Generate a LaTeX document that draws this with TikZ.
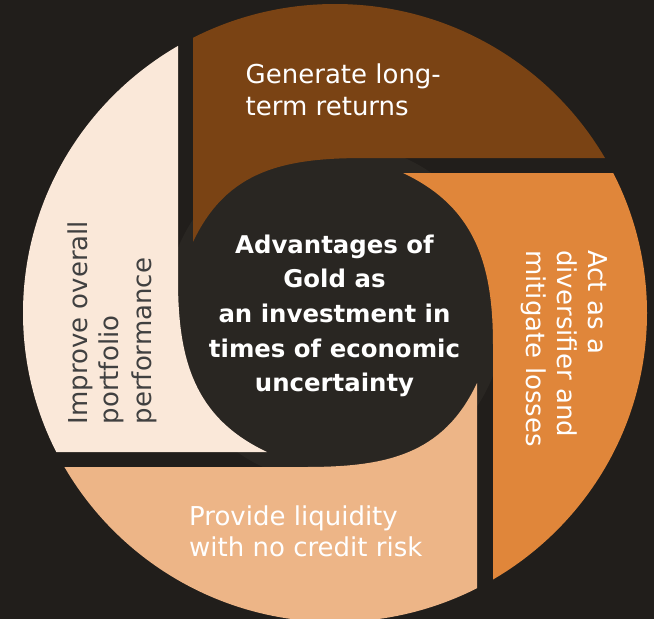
\documentclass[tikz,border=0pt]{standalone}
\usepackage{fontspec}
\setmainfont{DejaVu Sans}
\definecolor{bgc}{HTML}{211E1B}
\definecolor{midc}{HTML}{292622}
\definecolor{brownc}{HTML}{7A4314}
\definecolor{orangec}{HTML}{E0863A}
\definecolor{peachc}{HTML}{EDB587}
\definecolor{creamc}{HTML}{FAE8D9}
\definecolor{greyc}{HTML}{404040}
\tikzset{
  outertxt/.style={inner sep=0pt, text=white, font=\fontsize{26}{32}\selectfont},
  centertxt/.style={inner sep=0pt, text=white, font=\bfseries\fontsize{24.4}{34.7}\selectfont},
}
\begin{document}
\begin{tikzpicture}[x=1pt,y=-1pt]
\fill[bgc] (0,0) rectangle (654,619);
\useasboundingbox (0,0) rectangle (654,619);
\fill[midc] (335,313) circle [radius=170];
\begin{scope}
\clip (335,313) ellipse [x radius=312, y radius=309];
% brown (top)
\fill[brownc] (193,-20) -- (193,242) .. controls (227,169.5) and (285,158) .. (365,158) -- (700,158) -- (700,-20) -- cycle;
% orange (right)
\fill[orangec] (403,173) -- (700,173) -- (700,700) -- (493,700) -- (493,345) .. controls (493,265) and (475.5,207) .. (403,173) -- cycle;
% peach (bottom)
\fill[peachc] (477,383) -- (477,700) -- (-20,700) -- (-20,467) -- (305,467) .. controls (385,467) and (443,455.5) .. (477,383) -- cycle;
% cream (left)
\fill[creamc] (267,452) -- (-20,452) -- (-20,-20) -- (178,-20) -- (178,280) .. controls (178,360) and (194.5,418) .. (267,452) -- cycle;
\end{scope}
\node[outertxt, anchor=base west] (gen) at (245.5,83)
  {\begin{tabular}[t]{@{}l@{}}Generate long-\\term returns\end{tabular}};
\node[outertxt, anchor=base west, rotate=-90, font=\fontsize{26}{31}\selectfont] (act) at (588,250)
  {\begin{tabular}[t]{@{}l@{}}Act as a\\diversifier and\\mitigate losses\end{tabular}};
\node[outertxt, anchor=base west, font=\fontsize{26}{31.7}\selectfont] (prov) at (189,525)
  {\begin{tabular}[t]{@{}l@{}}Provide liquidity\\with no credit risk\end{tabular}};
\node[outertxt, anchor=base west, rotate=90, text=greyc] (impr) at (87,424.5)
  {\begin{tabular}[t]{@{}l@{}}Improve overall\\portfolio\\performance\end{tabular}};
\node[centertxt, anchor=base] (center) at (334.5,253)
  {\begin{tabular}[t]{@{}c@{}}Advantages of\\Gold as\\an investment in\\times of economic\\uncertainty\end{tabular}};
\end{tikzpicture}
\end{document}
